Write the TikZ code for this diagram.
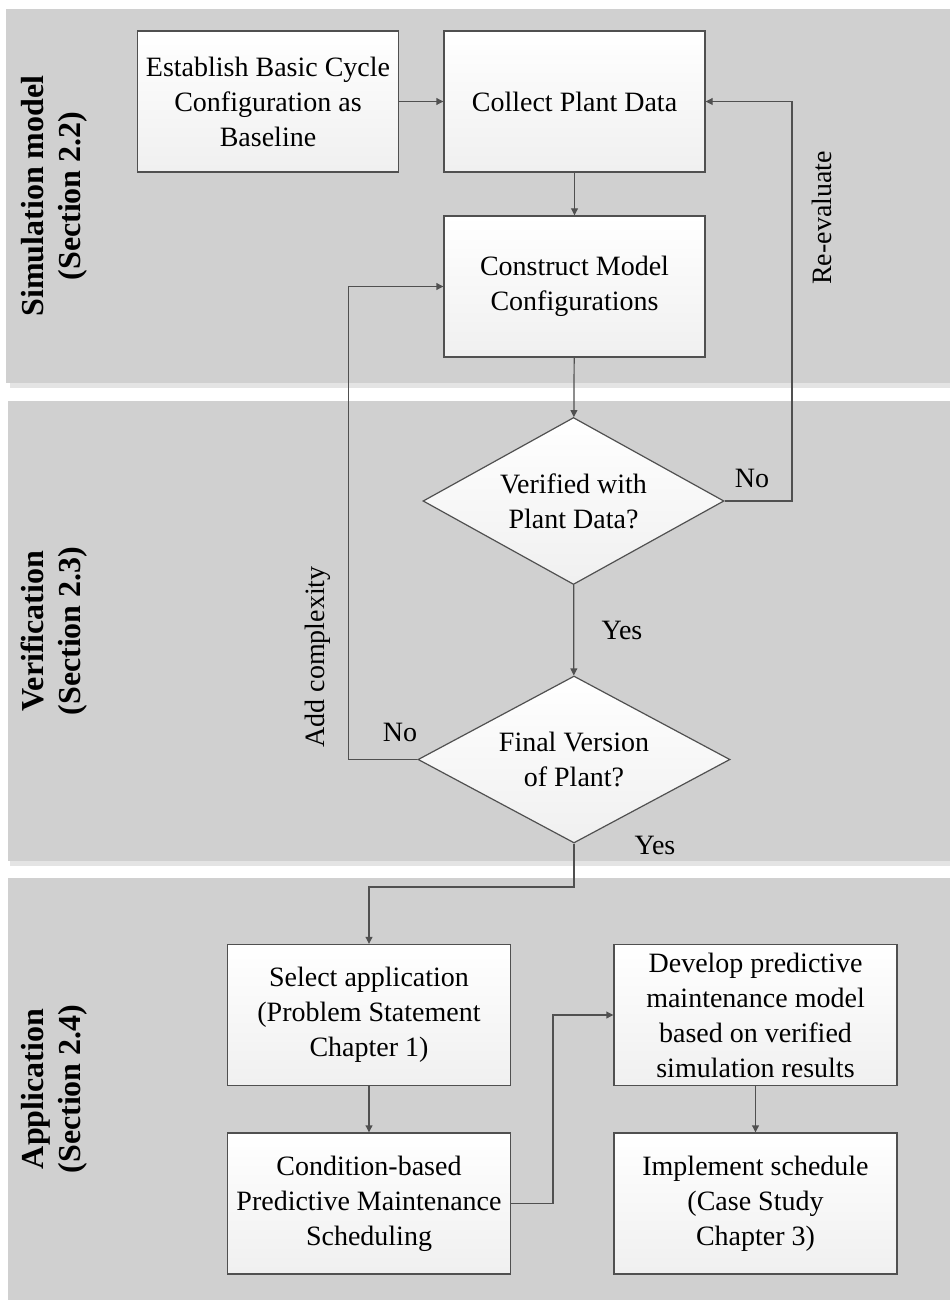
\documentclass[tikz,border=0pt]{standalone}
\usepackage{fontspec}
\setmainfont{Liberation Serif}
\usetikzlibrary{arrows.meta,shapes.geometric}
\definecolor{bandgray}{RGB}{208,208,208}
\definecolor{shadowgray}{RGB}{228,228,228}
\definecolor{linegray}{RGB}{80,80,80}
\tikzset{
  procbox/.style={draw=linegray, line width=0.6pt, top color=white, bottom color=gray!12,
    minimum width=130.5pt, minimum height=70.5pt, inner sep=0pt, align=center,
    font=\fontsize{14}{17.5}\selectfont},
  widebox/.style={procbox, minimum width=141.5pt},
  decision/.style={diamond, draw=linegray, line width=0.6pt, top color=white, bottom color=gray!12,
    shape aspect=1.8, inner sep=0pt, minimum height=83.5pt, align=center,
    font=\fontsize{14}{17.5}\selectfont},
  flow/.style={draw=linegray, line width=0.6pt, -{Triangle[length=3.5pt,width=3.4pt]}},
  lbl/.style={font=\fontsize{14}{17}\selectfont},
  bandlbl/.style={rotate=90, align=center, font=\fontsize{16}{18.5}\selectfont\bfseries}
}
\begin{document}
\begin{tikzpicture}[x=0.5pt,y=-0.5pt]
\useasboundingbox (0,0) rectangle (950,1300);
% bands
\fill[shadowgray] (10,13) rectangle (950,388);
\fill[bandgray] (6,9) rectangle (950,383);
\fill[shadowgray] (10,405) rectangle (950,866);
\fill[bandgray] (8,401) rectangle (950,861);
\fill[bandgray] (8,878) rectangle (950,1300);
\node[bandlbl] (simlbl) at (54,196) {Simulation model\\(Section 2.2)};
\node[bandlbl] (verlbl) at (54,631) {Verification\\(Section 2.3)};
\node[bandlbl] (applbl) at (54,1089) {Application\\(Section 2.4)};
% simulation model
\node[procbox] (establish) at (268,101.5) {Establish Basic Cycle\\Configuration as\\Baseline};
\node[procbox] (collect) at (574.5,101.5) {Collect Plant Data};
\node[procbox] (construct) at (574.5,286.5) {Construct Model\\Configurations};
% verification
\node[decision, minimum width=150.5pt] (verified) at (573.5,501) {Verified with\\Plant Data?};
\node[decision, minimum width=156pt] (final) at (574,759.5) {Final Version\\of Plant?};
% application
\node[widebox] (select) at (369,1015) {Select application\\(Problem Statement\\Chapter 1)};
\node[widebox] (condition) at (369,1203.5) {Condition-based\\Predictive Maintenance\\Scheduling};
\node[widebox] (develop) at (755.5,1015) {Develop predictive\\maintenance model\\based on verified\\simulation results};
\node[widebox] (implement) at (755.5,1203.5) {Implement schedule\\(Case Study\\Chapter 3)};
% connectors
\coordinate (reval) at (792,501);
\coordinate (addcx) at (348.5,759.5);
\coordinate (split) at (574,887);
\coordinate (jog) at (553,1203.5);
\draw[flow] (establish) -- (collect);
\draw[flow] (collect) -- (construct);
\draw[flow] (construct) -- (verified);
\draw[flow] (verified) -- (final);
\draw[flow] (verified.east) -- (reval) |- (collect.east);
\draw[flow] (final.west) -- (addcx) |- (construct.west);
\draw[flow] (final.south) -- (split) -| (select.north);
\draw[flow] (select) -- (condition);
\draw[flow] (condition.east) -- (jog) |- (develop.west);
\draw[flow] (develop) -- (implement);
% labels
\node[lbl] (no1) at (752,478) {No};
\node[lbl] (yes1) at (622,630) {Yes};
\node[lbl] (no2) at (400,732) {No};
\node[lbl] (yes2) at (655,845) {Yes};
\node[lbl, rotate=90] (reevallbl) at (822,218) {Re-evaluate};
\node[lbl, rotate=90] (addlbl) at (318,657) {Add complexity};
\end{tikzpicture}
\end{document}
